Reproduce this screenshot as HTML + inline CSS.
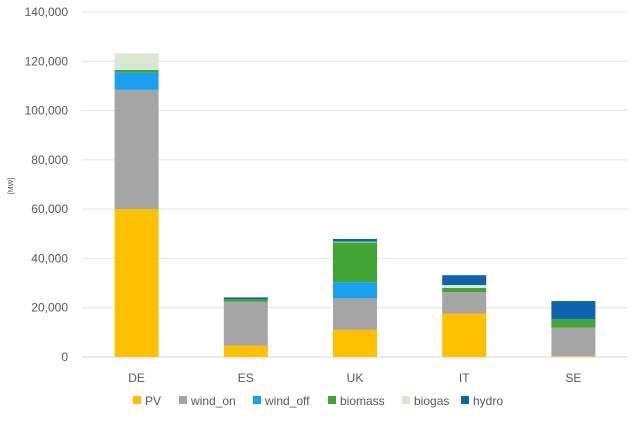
<!DOCTYPE html>
<html><head><meta charset="utf-8"><style>
body{margin:0;background:#fff;font-family:"Liberation Sans",sans-serif}
svg text{font-family:"Liberation Sans",sans-serif;fill:#595959}
</style></head><body>
<svg id="chart" width="642" height="418" xmlns="http://www.w3.org/2000/svg">
<g id="grid"></g>
<g id="yticks"></g>
<text transform="translate(13,186) rotate(-90)" text-anchor="middle" font-size="7">[MW]</text>
<g id="bars"></g>
<g id="xlabels"></g>
<g id="legend"></g>
</svg>
<script>
const categories=["DE","ES","UK","IT","SE"];
const seriesNames=["PV","wind_on","wind_off","biomass","biogas","hydro"];
const colors=["#FFC000","#A5A5A5","#1AA0F0","#41A535","#D9E8D3","#0E63AE"];
const PV=[60000,4600,11000,17600,300];
const windOn=[48400,17800,12800,8700,11600];
const windOff=[7000,0,6500,0,0];
const biomass=[1100,1000,16200,1700,3400];
const biogas=[6700,0,300,1200,0];
const hydro=[0,800,1100,4000,7400];
const yTicks=[0,20000,40000,60000,80000,100000,120000,140000];
const series=[PV,windOn,windOff,biomass,biogas,hydro];
const NS="http://www.w3.org/2000/svg";
const y0=357,y1=12,yMax=140000,xL=82,xR=628;
const y=v=>y0-(v/yMax)*(y0-y1);
const band=(xR-xL)/categories.length;
const x=i=>xL+band*i+band/2;
const barW=44;
function mk(t,a,p){const e=document.createElementNS(NS,t);for(const k in a)e.setAttribute(k,a[k]);p.appendChild(e);return e;}
const grid=document.getElementById('grid'),yt=document.getElementById('yticks');
yTicks.forEach(v=>{
 const l=mk('line',{x1:xL,x2:xR,y1:y(v),y2:y(v),stroke:v===0?'#D9D9D9':'#E4E4E4','stroke-width':1},grid);
 
 
 const t=mk('text',{x:68,y:y(v)+4,'text-anchor':'end','font-size':12},yt);
 t.textContent=v.toLocaleString('en-US');
 
 
});
const bars=document.getElementById('bars'),xl=document.getElementById('xlabels');
categories.forEach((c,i)=>{
 let acc=0;
 series.forEach((s,j)=>{
  const v=s[i];if(!v){return;}
  const r=mk('rect',{x:x(i)-barW/2,y:y(acc+v),width:barW,height:y(acc)-y(acc+v),fill:colors[j]},bars);
  
  
  acc+=v;
 });
 const t=mk('text',{x:x(i),y:382,'text-anchor':'middle','font-size':12},xl);
 t.textContent=c;
 
 
});
const lg=document.getElementById('legend');
const lx=[133,179,253,328,402,461];
seriesNames.forEach((n,j)=>{
 const g=mk('g',{},lg);
 
 
 mk('rect',{x:lx[j],y:396,width:8,height:8,fill:colors[j]},g);
 const t=mk('text',{x:lx[j]+12,y:405,'font-size':12},g);
 t.textContent=n;
});
</script>
</body></html>
